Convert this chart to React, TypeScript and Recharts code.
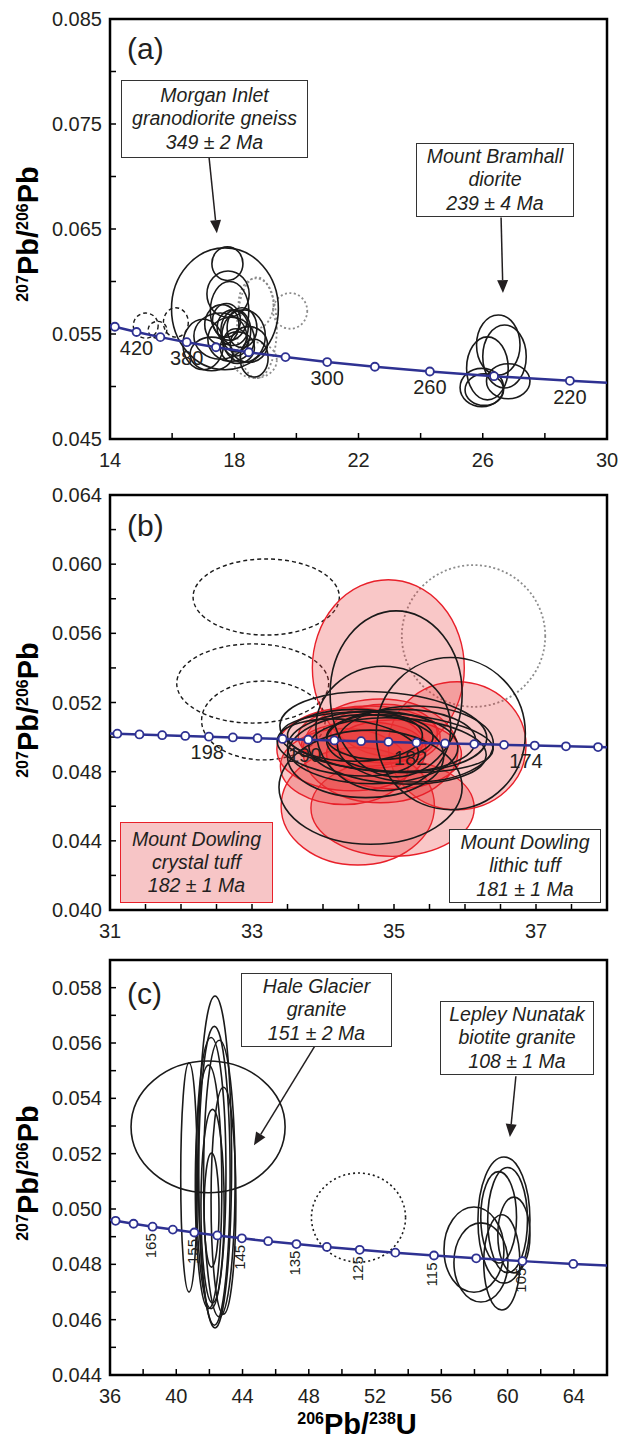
import React from 'react';
import { ComposedChart, Line, XAxis, YAxis, ReferenceArea, ReferenceLine } from 'recharts';

const FONT = '"Liberation Sans", Arial, Helvetica, sans-serif';
const INK = '#231f20';
const CONCORDIA = '#2e3192';

// ellipse rows: [centre x, centre y, half-width x, half-height y, tilt deg]

// ---------- (a) Morgan Inlet / Mount Bramhall
const A_X_TICKS = [14, 16, 18, 20, 22, 24, 26, 28, 30];
const A_X_LABELS = [14, 18, 22, 26, 30];
const A_Y_TICKS = [0.045, 0.05, 0.055, 0.06, 0.065, 0.07, 0.075, 0.08, 0.085];
const A_Y_LABELS = [0.045, 0.055, 0.065, 0.075, 0.085];
const A_AGES = [460, 440, 420, 400, 380, 360, 340, 320, 300, 280, 260, 240, 220, 200];
const A_CONC_X = [13.52, 14.157, 14.854, 15.621, 16.469, 17.411, 18.465, 19.649, 20.992, 22.527, 24.297, 26.363, 28.805, 31.735];
const A_CONC_Y = [0.05619, 0.05569, 0.05519, 0.0547, 0.05422, 0.05374, 0.05326, 0.0528, 0.05233, 0.05188, 0.05143, 0.05098, 0.05054, 0.05011];
const A_AGE_LABELS = [420, 380, 300, 260, 220];

const A_MORGAN = [
  [17.7, 0.0574, 1.72, 0.0058],
  [17.78, 0.0617, 0.5, 0.0016],
  [17.8, 0.0588, 0.68, 0.0022],
  [17.85, 0.0572, 0.62, 0.0028],
  [17.6, 0.0559, 0.55, 0.0019],
  [17.95, 0.0556, 0.5, 0.0017],
  [18.05, 0.0553, 0.48, 0.002],
  [17.27, 0.0531, 0.69, 0.0016],
  [17.0, 0.054, 0.65, 0.0024],
  [18.25, 0.0556, 0.48, 0.0019],
  [18.47, 0.054, 0.6, 0.0017],
  [18.64, 0.0527, 0.45, 0.0018],
  [17.9, 0.0545, 0.75, 0.0021],
  [18.1, 0.0537, 0.55, 0.0015],
  [17.55, 0.0548, 0.85, 0.0022],
  [18.3, 0.0548, 0.7, 0.0025],
  [18.05, 0.0542, 0.4, 0.0013],
  [17.75, 0.0563, 0.45, 0.0016],
];
const A_MORGAN_GREY = [
  [18.73, 0.0556, 0.64, 0.0048],
  [18.7, 0.0579, 0.56, 0.0024],
  [19.8, 0.0572, 0.55, 0.0017],
  [18.67, 0.0525, 0.7, 0.0017],
];
const A_MORGAN_DASHED = [
  [15.15, 0.0558, 0.4, 0.0012],
  [15.53, 0.0554, 0.3, 0.0008],
  [16.12, 0.0561, 0.4, 0.0014],
];
const A_BRAMHALL = [
  [26.5, 0.05395, 0.7, 0.00286],
  [26.7, 0.05286, 0.7, 0.003],
  [26.15, 0.05173, 0.67, 0.003],
  [25.97, 0.0499, 0.7, 0.00183],
  [26.82, 0.0505, 0.7, 0.00167],
  [26.05, 0.0497, 0.62, 0.0015],
];
const A_ARROWS = [
  [17.19, 0.0718, 17.44, 0.0646],
  [26.59, 0.0661, 26.65, 0.0589],
];

// ---------- (b) Mount Dowling
const B_X_TICKS = [31, 31.5, 32, 32.5, 33, 33.5, 34, 34.5, 35, 35.5, 36, 36.5, 37, 37.5, 38];
const B_X_LABELS = [31, 33, 35, 37];
const B_Y_TICKS = [0.04, 0.042, 0.044, 0.046, 0.048, 0.05, 0.052, 0.054, 0.056, 0.058, 0.06, 0.062, 0.064];
const B_Y_LABELS = [0.04, 0.044, 0.048, 0.052, 0.056, 0.06, 0.064];
const B_AGES = [206, 204, 202, 200, 198, 196, 194, 192, 190, 188, 186, 184, 182, 180, 178, 176, 174, 172, 170, 168, 166];
const B_CONC_X = [30.796, 31.103, 31.415, 31.735, 32.06, 32.393, 32.731, 33.078, 33.431, 33.792, 34.16, 34.537, 34.922, 35.316, 35.718, 36.13, 36.55, 36.982, 37.422, 37.874, 38.336];
const B_CONC_Y = [0.050238, 0.050195, 0.050151, 0.050108, 0.050065, 0.050022, 0.049979, 0.049936, 0.049893, 0.04985, 0.049807, 0.049764, 0.049721, 0.049679, 0.049636, 0.049594, 0.049551, 0.049509, 0.049466, 0.049424, 0.049382];
const B_AGE_LABELS = [198, 190, 182, 174];

const B_CRYSTAL = [
  [34.92, 0.054, 1.07, 0.0051],
  [35.89, 0.0495, 0.97, 0.0037],
  [34.49, 0.046, 1.08, 0.0034],
  [34.98, 0.0459, 1.15, 0.0028],
  [34.81, 0.0492, 1.09, 0.003],
  [34.3, 0.0483, 0.9, 0.0022],
  [34.65, 0.05, 1.0, 0.0018],
  [34.86, 0.0502, 0.75, 0.0017],
  [34.55, 0.0496, 0.85, 0.0013],
  [35.0, 0.049, 0.95, 0.002],
  [34.4, 0.0493, 1.05, 0.0024],
];
const B_LITHIC = [
  [35.03, 0.0525, 0.93, 0.0048],
  [35.8, 0.0502, 1.05, 0.0044],
  [34.67, 0.0471, 1.29, 0.0033],
  [34.85, 0.0505, 0.95, 0.0036],
  [34.85, 0.0503, 1.46, 0.0023, 4],
  [34.9, 0.0497, 1.5, 0.0017, 4],
  [34.7, 0.0494, 1.2, 0.0021],
  [34.35, 0.0494, 1.0, 0.0016, 6],
  [35.1, 0.0498, 1.05, 0.0018],
  [34.6, 0.0489, 1.1, 0.0024],
  [35.3, 0.0496, 1.1, 0.0022],
  [34.8, 0.05, 0.75, 0.0013],
  [34.45, 0.0501, 0.95, 0.0015],
  [35.05, 0.0492, 1.25, 0.0019, 3],
];
const B_DASHED = [
  [33.2, 0.0581, 1.03, 0.0022],
  [33.01, 0.0531, 1.07, 0.00229],
  [33.16, 0.05096, 0.87, 0.00228],
];
const B_GREY = [[36.12, 0.05585, 1.01, 0.0041]];

// ---------- (c) Hale Glacier / Lepley Nunatak
const C_X_TICKS = [36, 38, 40, 42, 44, 46, 48, 50, 52, 54, 56, 58, 60, 62, 64, 66];
const C_X_LABELS = [36, 40, 44, 48, 52, 56, 60, 64];
const C_Y_TICKS = [0.044, 0.045, 0.046, 0.047, 0.048, 0.049, 0.05, 0.051, 0.052, 0.053, 0.054, 0.055, 0.056, 0.057, 0.058, 0.059];
const C_Y_LABELS = [0.044, 0.046, 0.048, 0.05, 0.052, 0.054, 0.056, 0.058];
const C_AGES = [180, 175, 170, 165, 160, 155, 150, 145, 140, 135, 130, 125, 120, 115, 110, 105, 100, 95];
const C_CONC_X = [35.316, 36.339, 37.422, 38.571, 39.792, 41.092, 42.478, 43.96, 45.547, 47.253, 49.09, 51.073, 53.222, 55.557, 58.105, 60.896, 63.965, 67.358];
const C_CONC_Y = [0.049679, 0.049573, 0.049466, 0.04936, 0.049255, 0.04915, 0.049045, 0.04894, 0.048836, 0.048733, 0.048629, 0.048526, 0.048423, 0.04832, 0.048218, 0.048116, 0.048015, 0.047914];
const C_AGE_LABELS = [165, 155, 145, 135, 125, 115, 105];

const C_HALE = [
  [40.77, 0.05114, 0.5, 0.00414],
  [42.34, 0.0517, 1.0, 0.006],
  [42.3, 0.0512, 0.95, 0.0054],
  [42.1, 0.0513, 0.9, 0.0049],
  [42.6, 0.0511, 0.95, 0.005],
  [42.85, 0.0503, 0.75, 0.0041],
  [42.19, 0.0501, 0.7, 0.0035],
  [42.13, 0.04996, 0.45, 0.00206],
  [41.95, 0.0508, 0.8, 0.0044],
  [41.92, 0.05297, 4.65, 0.00238],
];
const C_HALE_DOTTED = [[51.0, 0.04969, 2.84, 0.00161]];
const C_LEPLEY = [
  [59.78, 0.0496, 1.57, 0.00228],
  [59.46, 0.0497, 1.08, 0.00165],
  [60.0, 0.0496, 1.2, 0.0019],
  [57.97, 0.04853, 1.81, 0.00154],
  [58.39, 0.04807, 1.63, 0.00143],
  [59.65, 0.04807, 1.09, 0.00172],
  [60.38, 0.04906, 0.97, 0.00137],
];
const C_ARROWS = [
  [48.37, 0.0559, 44.69, 0.0523],
  [60.5, 0.0548, 60.14, 0.0526],
];

const STYLES: Record<string, any> = {
  solid: { stroke: '#1a1a1a', width: 1.6, fill: 'none', fillOpacity: 0 },
  dashed: { stroke: '#1a1a1a', width: 1.4, fill: 'none', fillOpacity: 0, dash: '4 3' },
  dotted: { stroke: '#1a1a1a', width: 1.6, fill: 'none', fillOpacity: 0, dash: '2 3' },
  grey: { stroke: '#8c8c8c', width: 1.8, fill: 'none', fillOpacity: 0, dash: '2 2.5' },
  red: { stroke: '#e8202a', width: 1.4, fill: '#e83535', fillOpacity: 0.28 },
};

const inList = (list: number[], v: number) => list.some((l) => Math.abs(l - v) < 1e-9);

function ellipseShape(st: any, angle: number) {
  return (p: any) => {
    if (![p.x, p.y, p.width, p.height].every(Number.isFinite)) return <g />;
    const cx = p.x + p.width / 2;
    const cy = p.y + p.height / 2;
    return (
      <ellipse
        cx={cx}
        cy={cy}
        rx={Math.abs(p.width) / 2}
        ry={Math.abs(p.height) / 2}
        transform={angle ? `rotate(${angle} ${cx} ${cy})` : undefined}
        fill={st.fill}
        fillOpacity={st.fillOpacity}
        stroke={st.stroke}
        strokeWidth={st.width}
        strokeDasharray={st.dash}
      />
    );
  };
}

function arrowShape(p: any) {
  const { x1, y1, x2, y2 } = p;
  if (![x1, y1, x2, y2].every(Number.isFinite)) return <g />;
  const len = Math.hypot(x2 - x1, y2 - y1) || 1;
  const ux = (x2 - x1) / len;
  const uy = (y2 - y1) / len;
  const bx = x2 - ux * 13;
  const by = y2 - uy * 13;
  return (
    <g>
      <line x1={x1} y1={y1} x2={bx} y2={by} stroke={INK} strokeWidth={1.5} />
      <polygon points={`${x2},${y2} ${bx - uy * 5.5},${by + ux * 5.5} ${bx + uy * 5.5},${by - ux * 5.5}`} fill={INK} />
    </g>
  );
}

const frameShape = (p: any) => (
  <rect x={p.x} y={p.y} width={p.width} height={p.height} fill="none" stroke="#000" strokeWidth={2.5} />
);

function Panel(props: any) {
  const {
    top, height, marginTop, xAxisHeight, xDomain, yDomain, xTicks, xLabels, yTicks, yLabels,
    ages, xs, ys, ageLabels, labelKind, groups, arrows,
  } = props;
  const data = ages.map((age: number, i: number) => ({ age, x: xs[i], y: ys[i] }));

  const renderDot = (p: any) => {
    const { cx, cy, payload, index } = p;
    const key = `dot-${index}`;
    if (!payload || payload.x < xDomain[0] || payload.x > xDomain[1] || !Number.isFinite(cx)) return <g key={key} />;
    const labelled = ageLabels.includes(payload.age);
    let label = null;
    if (labelled) {
      if (labelKind === 'below') {
        label = (
          <text x={cx} y={cy + 16} textAnchor="middle" dominantBaseline="central" fontSize={20} fontFamily={FONT} fill={INK}>
            {payload.age}
          </text>
        );
      } else if (labelKind === 'right') {
        label = (
          <text x={cx + 22} y={cy + 16} textAnchor="middle" dominantBaseline="central" fontSize={20} fontFamily={FONT} fill={INK}>
            {payload.age}
          </text>
        );
      } else {
        label = (
          <text
            x={cx - 2}
            y={cy + 19}
            transform={`rotate(-90 ${cx - 2} ${cy + 19})`}
            textAnchor="middle"
            dominantBaseline="central"
            fontSize={15}
            fontFamily={FONT}
            fill={INK}
          >
            {payload.age}
          </text>
        );
      }
    }
    return (
      <g key={key}>
        <circle cx={cx} cy={cy} r={4} fill="#fff" stroke={CONCORDIA} strokeWidth={1.8} />
        {label}
      </g>
    );
  };

  const tickStyle = { fill: INK, fontSize: 20, fontFamily: FONT };

  return (
    <div style={{ position: 'absolute', left: 0, top }}>
      <ComposedChart width={622} height={height} data={data} margin={{ top: marginTop, right: 15, bottom: 0, left: 0 }}>
        <XAxis
          type="number"
          dataKey="x"
          domain={xDomain}
          allowDataOverflow
          ticks={xTicks}
          interval={0}
          tickFormatter={(v: number) => (inList(xLabels, v) ? String(v) : '')}
          tickSize={-6}
          tickMargin={20}
          height={xAxisHeight}
          axisLine={false}
          tickLine={{ stroke: '#000', strokeWidth: 1.5 }}
          tick={tickStyle}
        />
        <YAxis
          type="number"
          domain={yDomain}
          allowDataOverflow
          ticks={yTicks}
          interval={0}
          tickFormatter={(v: number) => (inList(yLabels, v) ? v.toFixed(3) : '')}
          tickSize={-6}
          tickMargin={14}
          width={110}
          axisLine={false}
          tickLine={{ stroke: '#000', strokeWidth: 1.5 }}
          tick={tickStyle}
        />
        {groups.map((g: any, gi: number) =>
          g.items.map((e: number[], i: number) => (
            <ReferenceArea
              key={`e-${gi}-${i}`}
              x1={e[0] - e[2]}
              x2={e[0] + e[2]}
              y1={e[1] - e[3]}
              y2={e[1] + e[3]}
              ifOverflow="visible"
              shape={ellipseShape(STYLES[g.style], e[4] || 0)}
            />
          )),
        )}
        {arrows.map((a: number[], i: number) => (
          <ReferenceLine
            key={`arrow-${i}`}
            segment={[{ x: a[0], y: a[1] }, { x: a[2], y: a[3] }]}
            ifOverflow="visible"
            shape={arrowShape}
          />
        ))}
        <Line
          type="linear"
          dataKey="y"
          stroke={CONCORDIA}
          strokeWidth={2.5}
          dot={renderDot}
          activeDot={false}
          isAnimationActive={false}
        />
        <ReferenceArea
          x1={xDomain[0]}
          x2={xDomain[1]}
          y1={yDomain[0]}
          y2={yDomain[1]}
          ifOverflow="visible"
          shape={frameShape}
        />
      </ComposedChart>
    </div>
  );
}

const Sup = ({ children }: any) => (
  <span style={{ fontSize: 16, position: 'relative', top: -10 }}>{children}</span>
);

function YTitle({ cy }: { cy: number }) {
  return (
    <div
      style={{
        position: 'absolute',
        left: 30,
        top: cy,
        transform: 'translate(-50%, -50%) rotate(-90deg)',
        whiteSpace: 'nowrap',
        fontWeight: 'bold',
        fontSize: 29,
        lineHeight: '32px',
        color: '#000',
        fontFamily: FONT,
      }}
    >
      <Sup>207</Sup>Pb/<Sup>206</Sup>Pb
    </div>
  );
}

function Box(props: any) {
  const { left, top, width, height, lines, pink } = props;
  return (
    <div
      style={{
        position: 'absolute',
        left,
        top,
        width,
        height,
        boxSizing: 'border-box',
        border: pink ? '1.5px solid #e8202a' : '1.5px solid #333',
        background: pink ? '#f7c5c6' : '#fff',
        display: 'flex',
        flexDirection: 'column',
        justifyContent: 'center',
        alignItems: 'center',
        fontStyle: 'italic',
        fontSize: 19.5,
        lineHeight: '23.3px',
        color: INK,
        fontFamily: FONT,
        whiteSpace: 'nowrap',
      }}
    >
      {lines.map((l: string, i: number) => (
        <div key={i}>{l}</div>
      ))}
    </div>
  );
}

function PanelTag({ top, text }: { top: number; text: string }) {
  return (
    <div style={{ position: 'absolute', left: 127, top, fontSize: 30, lineHeight: '30px', color: INK, fontFamily: FONT }}>
      {text}
    </div>
  );
}

export default function App() {
  return (
    <div style={{ position: 'absolute', left: 0, top: 0, width: 622, height: 1443, background: '#fff', fontFamily: FONT }}>
      <Panel
        top={0}
        height={480}
        marginTop={19}
        xAxisHeight={41}
        xDomain={[14, 30]}
        yDomain={[0.045, 0.085]}
        xTicks={A_X_TICKS}
        xLabels={A_X_LABELS}
        yTicks={A_Y_TICKS}
        yLabels={A_Y_LABELS}
        ages={A_AGES}
        xs={A_CONC_X}
        ys={A_CONC_Y}
        ageLabels={A_AGE_LABELS}
        labelKind="below"
        groups={[
          { style: 'dashed', items: A_MORGAN_DASHED },
          { style: 'grey', items: A_MORGAN_GREY },
          { style: 'solid', items: A_MORGAN },
          { style: 'solid', items: A_BRAMHALL },
        ]}
        arrows={A_ARROWS}
      />
      <Panel
        top={480}
        height={470}
        marginTop={15}
        xAxisHeight={40}
        xDomain={[31, 38]}
        yDomain={[0.04, 0.064]}
        xTicks={B_X_TICKS}
        xLabels={B_X_LABELS}
        yTicks={B_Y_TICKS}
        yLabels={B_Y_LABELS}
        ages={B_AGES}
        xs={B_CONC_X}
        ys={B_CONC_Y}
        ageLabels={B_AGE_LABELS}
        labelKind="right"
        groups={[
          { style: 'dashed', items: B_DASHED },
          { style: 'grey', items: B_GREY },
          { style: 'red', items: B_CRYSTAL },
          { style: 'solid', items: B_LITHIC },
        ]}
        arrows={[]}
      />
      <Panel
        top={950}
        height={493}
        marginTop={10}
        xAxisHeight={68}
        xDomain={[36, 66]}
        yDomain={[0.044, 0.059]}
        xTicks={C_X_TICKS}
        xLabels={C_X_LABELS}
        yTicks={C_Y_TICKS}
        yLabels={C_Y_LABELS}
        ages={C_AGES}
        xs={C_CONC_X}
        ys={C_CONC_Y}
        ageLabels={C_AGE_LABELS}
        labelKind="rotated"
        groups={[
          { style: 'dotted', items: C_HALE_DOTTED },
          { style: 'solid', items: C_HALE },
          { style: 'solid', items: C_LEPLEY },
        ]}
        arrows={C_ARROWS}
      />

      <YTitle cy={234} />
      <YTitle cy={710} />
      <YTitle cy={1173} />
      <div
        style={{
          position: 'absolute',
          left: 357,
          top: 1426,
          transform: 'translate(-50%, -50%)',
          whiteSpace: 'nowrap',
          fontWeight: 'bold',
          fontSize: 29,
          lineHeight: '32px',
          color: '#000',
          fontFamily: FONT,
        }}
      >
        <Sup>206</Sup>Pb/<Sup>238</Sup>U
      </div>

      <PanelTag top={34} text="(a)" />
      <PanelTag top={511} text="(b)" />
      <PanelTag top={979} text="(c)" />

      <Box left={121} top={80} width={187} height={78} lines={['Morgan Inlet', 'granodiorite gneiss', '349 ± 2 Ma']} />
      <Box left={416} top={143} width={158} height={74} lines={['Mount Bramhall', 'diorite', '239 ± 4 Ma']} />
      <Box left={120} top={822} width={153} height={81} pink lines={['Mount Dowling', 'crystal tuff', '182 ± 1 Ma']} />
      <Box left={449} top={829} width={152} height={74} lines={['Mount Dowling', 'lithic tuff', '181 ± 1 Ma']} />
      <Box left={241} top={973} width={151} height={74} lines={['Hale Glacier', 'granite', '151 ± 2 Ma']} />
      <Box left={440} top={1001} width={154} height={74} lines={['Lepley Nunatak', 'biotite granite', '108 ± 1 Ma']} />
    </div>
  );
}
